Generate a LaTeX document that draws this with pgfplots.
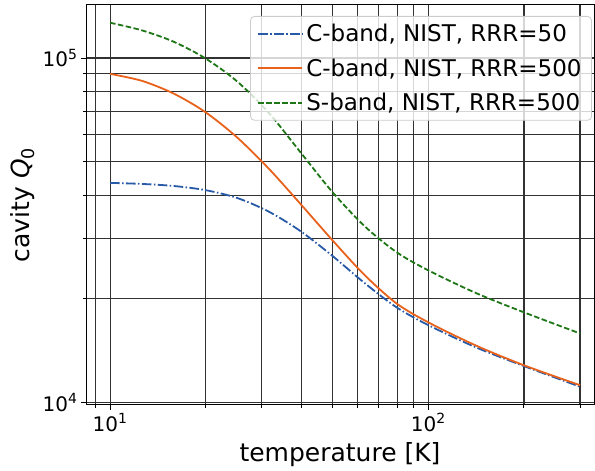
\documentclass[border=0pt]{standalone}
\usepackage{fontspec}
\setmainfont{DejaVu Sans}
\usepackage{pgfplots}
\pgfplotsset{compat=1.18}
\definecolor{cBlue}{RGB}{40,90,168}
\definecolor{cOrange}{RGB}{232,98,28}
\definecolor{cGreen}{RGB}{30,118,22}
\definecolor{cGrid}{RGB}{50,50,50}
\newcommand\fsTick{\fontsize{20}{24}\selectfont}
\newcommand\fsLeg{\fontsize{23}{27}\selectfont}
\newcommand\fsLab{\fontsize{25}{30}\selectfont}

\begin{document}
\begin{tikzpicture}
\begin{axis}[
  xmode=log, ymode=log,
  scale only axis, width=508pt, height=400pt,
  xmin=8.40, xmax=332, ymin=9830, ymax=142600,
  xtick={10,100}, xticklabels={10\textsuperscript{1},10\textsuperscript{2}},
  ytick={10000,100000}, yticklabels={10\textsuperscript{4},10\textsuperscript{5}},
  minor xtick={9,20,30,40,50,60,70,80,90,200,300},
  minor ytick={20000,30000,40000,50000,60000,70000,80000,90000},
  grid=both,
  major grid style={cGrid, line width=1.1pt},
  minor grid style={cGrid, line width=1.1pt},
  tick align=outside, tick pos=left,
  major tick length=5pt, minor tick length=3pt,
  every tick/.style={black, line width=1pt},
  axis line style={black, line width=1pt},
  tick label style={font=\fsTick, black},
  xlabel={temperature [K]},
  ylabel={cavity {\itshape Q}\textsubscript{0}},
  xlabel style={font=\fsLab, at={(axis description cs:0.5,0)}, anchor=base, yshift=-57pt},
  ylabel style={font=\fsLab, at={(axis description cs:-0.124,0.5)}, anchor=center},
  legend cell align=left,
  legend image code/.code={\draw[#1] (0pt,0pt) -- (44pt,0pt);},
  legend style={at={(axis description cs:0.996,0.9725)}, anchor=north east,
    draw=black!20, line width=0.8pt, rounded corners=4pt,
    fill=white, fill opacity=0.8, text opacity=1, font=\fsLeg,
    inner xsep=7pt, inner ysep=5pt, row sep=9.5pt,
    nodes={inner sep=3pt},
    /tikz/every even column/.append style={column sep=15pt}},
]
\addplot[cBlue, line width=1.8pt, dash pattern=on 9.6pt off 2.4pt on 1.5pt off 2.4pt, smooth] coordinates {
  (10,43400) (12.59,43100) (15.85,42510) (19.95,41350) (25.12,39220)
  (31.62,35770) (39.81,31370) (50.12,26580) (63.10,22210) (79.43,18900)
  (100,16770) (141.25,14450) (199.5,12760) (300,11110)};
\addlegendentry{C-band, NIST, RRR=50}
\addplot[cOrange, line width=1.8pt, smooth] coordinates {
  (10,89950) (12.59,85870) (15.85,78860) (19.95,69630) (25.12,58730)
  (31.62,47610) (39.81,37570) (50.12,29500) (63.10,23430) (79.43,19400)
  (100,17090) (141.25,14630) (199.5,12830) (300,11220)};
\addlegendentry{C-band, NIST, RRR=500}
\addplot[cGreen, line width=1.8pt, dash pattern=on 5.5pt off 2.5pt, smooth] coordinates {
  (10,126620) (12.59,120350) (15.85,111530) (19.95,99750) (25.12,85430)
  (31.62,69130) (39.81,53040) (50.12,40700) (63.10,32490) (79.43,27330)
  (100,24190) (141.25,20780) (199.5,18280) (300,15860)};
\addlegendentry{S-band, NIST, RRR=500}
\end{axis}
\pgfresetboundingbox
\path[use as bounding box] (-86pt,-66pt) rectangle (509pt,405pt);
\end{tikzpicture}
\end{document}
